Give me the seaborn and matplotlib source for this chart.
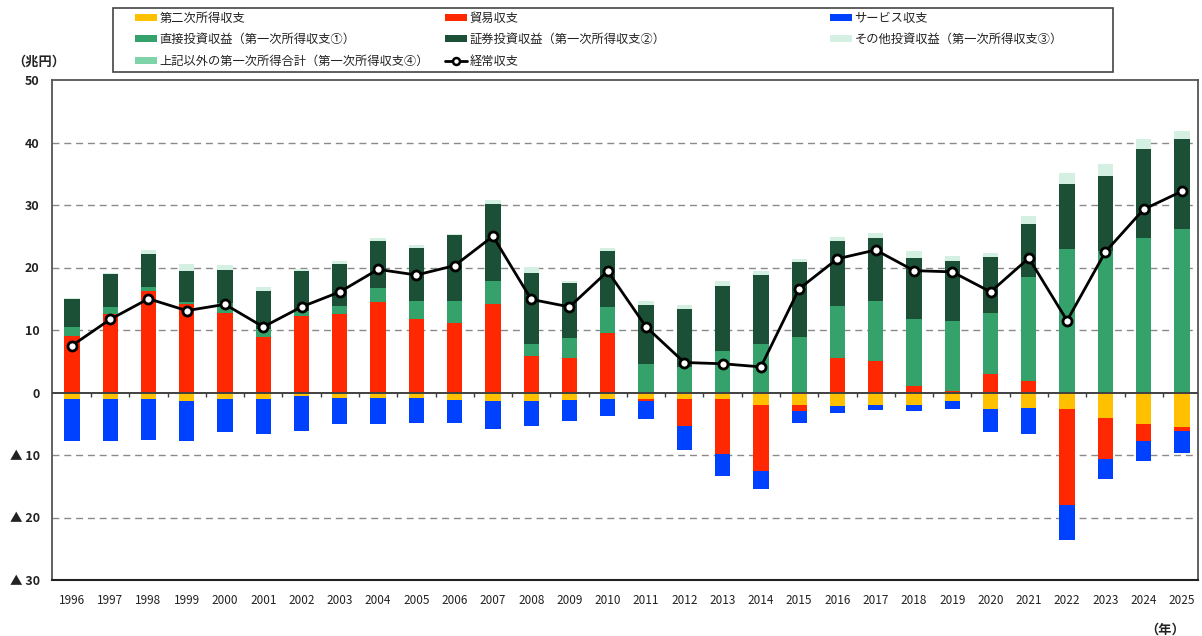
import numpy as np
import matplotlib
matplotlib.use("Agg")
import matplotlib.pyplot as plt
import seaborn as sns
from matplotlib.patches import Patch, Rectangle
from matplotlib.lines import Line2D

# ---------------- data (兆円) ----------------
years = [str(y) for y in range(1996, 2026)]
trade = [9.1, 12.5, 16.2, 14.1, 12.7, 8.9, 12.2, 12.6, 14.5, 11.8,
         11.1, 14.2, 5.9, 5.5, 9.5, -0.3, -4.3, -8.8, -10.5, -0.9,
         5.5, 5.0, 1.1, 0.2, 2.9, 1.9, -15.4, -6.6, -2.7, -0.7]
secondary = [-1.0, -1.1, -1.1, -1.4, -1.1, -1.0, -0.6, -0.9, -0.9, -0.8,
             -1.2, -1.4, -1.4, -1.2, -1.1, -1.1, -1.1, -1.0, -2.0, -2.0,
             -2.1, -2.0, -2.0, -1.4, -2.6, -2.4, -2.6, -4.1, -5.1, -5.5]
services = [-6.7, -6.6, -6.5, -6.3, -5.2, -5.6, -5.6, -4.1, -4.2, -4.1,
            -3.7, -4.4, -3.9, -3.3, -2.7, -2.8, -3.8, -3.5, -3.0, -2.0,
            -1.2, -0.8, -1.0, -1.2, -3.7, -4.2, -5.6, -3.2, -3.2, -3.4]
direct_inv = [1.4, 1.2, 0.7, 0.4, 1.6, 1.3, 0.9, 1.2, 2.3, 2.8,
              3.6, 3.7, 1.9, 3.2, 4.2, 4.5, 4.1, 6.7, 7.8, 8.9,
              8.3, 9.7, 10.6, 11.3, 9.8, 16.6, 22.9, 22.6, 24.7, 26.2]
securities_inv = [4.5, 5.3, 5.3, 4.9, 5.3, 6.1, 6.3, 6.8, 7.4, 8.5,
                  10.5, 12.2, 11.3, 8.8, 8.9, 9.5, 9.3, 10.4, 11.0, 12.0,
                  10.4, 10.1, 9.8, 9.6, 9.0, 8.4, 10.4, 12.0, 14.3, 14.3]
other_inv = [0.1, 0.1, 0.6, 1.2, 0.8, 0.6, 0.4, 0.4, 0.5, 0.5,
             0.2, 0.7, 1.0, 0.4, 0.5, 0.7, 0.6, 0.7, 0.7, 0.5,
             0.7, 0.8, 1.1, 0.7, 0.6, 1.3, 1.9, 2.0, 1.5, 1.4]
other_primary = [0.0] * 30
current_account = [7.5, 11.7, 15.0, 13.1, 14.1, 10.5, 13.7, 16.1, 19.7, 18.8,
                   20.3, 25.0, 14.9, 13.7, 19.4, 10.5, 4.8, 4.6, 4.1, 16.6,
                   21.4, 22.8, 19.5, 19.3, 16.1, 21.5, 11.5, 22.5, 29.3, 32.2]

labels = {
    "secondary": "第二次所得収支",
    "trade": "貿易収支",
    "services": "サービス収支",
    "direct": "直接投資収益（第一次所得収支①）",
    "securities": "証券投資収益（第一次所得収支②）",
    "other": "その他投資収益（第一次所得収支③）",
    "primary4": "上記以外の第一次所得合計（第一次所得収支④）",
    "ca": "経常収支",
}
colors = {
    "secondary": "#FFC000",
    "trade": "#FF2800",
    "services": "#0041FF",
    "direct": "#35A16B",
    "securities": "#1B5036",
    "other": "#D3F0E2",
    "primary4": "#7FD3A8",
}
series = {
    "secondary": secondary, "trade": trade, "services": services,
    "direct": direct_inv, "securities": securities_inv,
    "other": other_inv, "primary4": other_primary,
}

# ---------------- style ----------------
sns.set_theme(style="white")
plt.rcParams["font.family"] = ["Noto Sans CJK JP", "DejaVu Sans"]

W, H = 1202, 636
fig = plt.figure(figsize=(W / 100, H / 100), dpi=100)
ax = fig.add_axes([52 / W, (H - 580) / H, (1198 - 52) / W, 500 / H])

x = np.arange(len(years))
bw = 0.4

# positive stack: trade, direct, securities, other, primary4
pos_order = ["trade", "direct", "securities", "other", "primary4"]
neg_order = ["secondary", "trade", "services", "direct", "securities", "other", "primary4"]
pos_bottom = np.zeros(len(years))
for key in pos_order:
    v = np.clip(np.array(series[key], dtype=float), 0, None)
    ax.bar(x, v, bw, bottom=pos_bottom, color=colors[key], linewidth=0, zorder=2)
    pos_bottom += v
neg_bottom = np.zeros(len(years))
for key in neg_order:
    v = np.clip(np.array(series[key], dtype=float), None, 0)
    ax.bar(x, v, bw, bottom=neg_bottom, color=colors[key], linewidth=0, zorder=2)
    neg_bottom += v

sns.lineplot(x=x, y=current_account, ax=ax, color="black", linewidth=2.0,
             marker="o", markersize=6.5, markerfacecolor="white",
             markeredgecolor="black", markeredgewidth=2.0, zorder=6)

# axes setup
ax.set_xlim(-0.52, 29.42)
ax.set_ylim(-30, 50)
yticks = list(range(-30, 51, 10))
ax.set_yticks(yticks)
ax.set_yticklabels([str(v) if v >= 0 else f"▲ {-v}" for v in yticks],
                   fontsize=9, fontweight="bold", color="#222222")
ax.set_xticks(x)
ax.set_xticklabels(years, fontsize=8.5, color="#222222")
ax.tick_params(axis="y", length=0, pad=9)
ax.tick_params(axis="x", length=0, pad=10)

for v in yticks:
    if v not in (-30, 0, 50):
        ax.axhline(v, color="#8a8a8a", linewidth=1.0, linestyle=(0, (5, 3.5)), zorder=1)
ax.axhline(0, color="#404040", linewidth=1.4, zorder=4)
ax.vlines(x[:-1] + 0.5, -0.65, 0, color="#404040", linewidth=1.0, zorder=4)

for s in ["left", "top", "right"]:
    ax.spines[s].set_color("#555555")
    ax.spines[s].set_linewidth(1.3)
ax.spines["bottom"].set_color("#222222")
ax.spines["bottom"].set_linewidth(1.5)

# unit labels
fig.text(12 / W, 1 - 62 / H, "（兆円）", fontsize=9.5, fontweight="bold",
         ha="left", va="center", color="#222222")
fig.text(1145 / W, 1 - 630 / H, "（年）", fontsize=9.5, fontweight="bold",
         ha="left", va="center", color="#222222")

# legend (three columns + frame)
def ph(key):
    return Patch(facecolor=colors[key], edgecolor="none", label=labels[key])

ca_handle = Line2D([], [], color="black", linewidth=2.0, marker="o", markersize=5,
                   markerfacecolor="white", markeredgecolor="black",
                   markeredgewidth=1.8, label=labels["ca"])
cols = [
    (135, [ph("secondary"), ph("direct"), ph("primary4")]),
    (445, [ph("trade"), ph("securities"), ca_handle]),
    (830, [ph("services"), ph("other")]),
]
for xpx, hs in cols:
    leg = fig.legend(handles=hs, loc="upper left",
                     bbox_to_anchor=(xpx / W, 1 - 12 / H),
                     frameon=False, fontsize=8.8, borderpad=0, borderaxespad=0,
                     handlelength=1.8, handleheight=0.5, handletextpad=0.2,
                     labelspacing=0.68)
    for t in leg.get_texts():
        t.set_color("#222222")
fig.add_artist(Rectangle((113 / W, 1 - 72 / H), 1000 / W, 64 / H,
                         transform=fig.transFigure, fill=False,
                         edgecolor="#444444", linewidth=1.2))

fig.savefig("out.png", dpi=100)
